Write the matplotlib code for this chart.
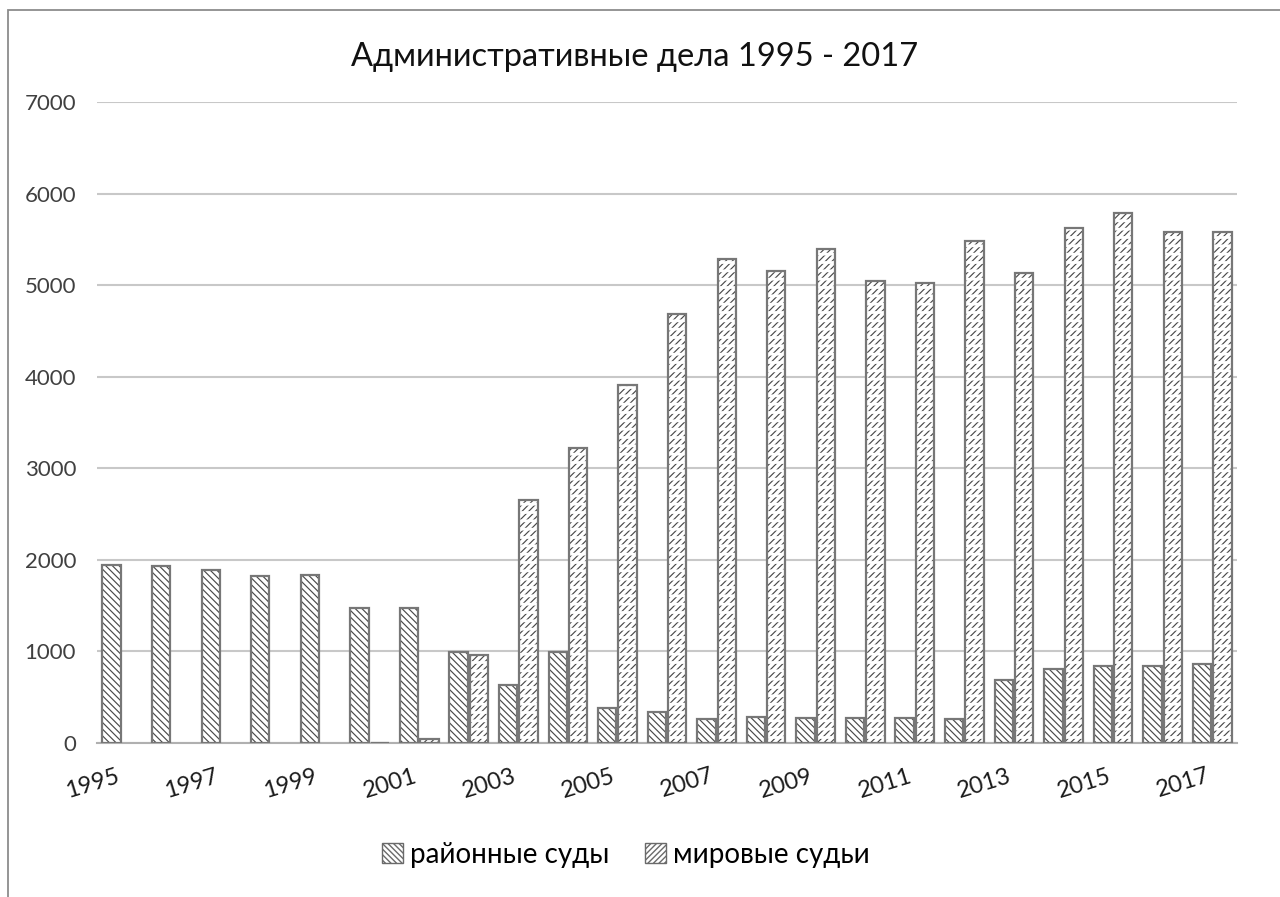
import matplotlib
matplotlib.use("Agg")
import matplotlib.pyplot as plt
import matplotlib.transforms as mtransforms
import numpy as np
from matplotlib.patches import Rectangle, Patch

years = list(range(1995, 2018))
district = [1945, 1930, 1890, 1820, 1830, 1470, 1470, 990, 630, 995, 385, 338,
            262, 287, 276, 276, 276, 262, 690, 804, 840, 840, 862]
magistrates = [0, 0, 0, 0, 0, 5, 45, 960, 2650, 3220, 3910, 4680,
               5290, 5150, 5390, 5050, 5025, 5480, 5135, 5625, 5790, 5580, 5580]
series_names = ["районные суды", "мировые судьи"]
title = "Административные дела 1995 - 2017"
yticks = [0, 1000, 2000, 3000, 4000, 5000, 6000, 7000]

plt.rcParams['font.family'] = ['Lato', 'DejaVu Sans']

W, H = 1280, 897
fig = plt.figure(figsize=(W / 100, H / 100), dpi=100)
ax = fig.add_axes([97 / W, 1 - 743 / H, (1237 - 97) / W, (743 - 102) / H])

x = np.arange(len(years))
mag = np.array(magistrates, dtype=float)
mag_plot = np.where(mag > 0, mag, np.nan)
bw = 0.37
off = 0.205
hatch_col = '#4a4a4a'
edge_col = '#777777'

with plt.rc_context({'hatch.linewidth': 0.85}):
    ax.bar(x - off, district, bw, color='white', edgecolor=hatch_col, hatch='\\\\\\\\\\',
           linewidth=0, zorder=3)
    ax.bar(x + off, mag_plot, bw, color='white', edgecolor=hatch_col, hatch='/////',
           linewidth=0, zorder=3)
with plt.rc_context({'hatch.linewidth': 2.0}):
    ax.bar(x + off, mag_plot, bw, fill=False, edgecolor='white', hatch='--',
           linewidth=0, zorder=4)
ax.bar(x - off, district, bw, fill=False, edgecolor=edge_col, linewidth=1.6, zorder=5)
ax.bar(x + off, mag_plot, bw, fill=False, edgecolor=edge_col, linewidth=1.6, zorder=5)

ax.set_xlim(-0.5, len(years) - 0.5)
ax.set_ylim(0, 7000)
ax.set_yticks(yticks)
ax.set_yticklabels([str(v) for v in yticks], fontsize=16, color='#404040')
ax.yaxis.grid(True, color='#c8c8c8', linewidth=1.5, zorder=0)
ax.set_axisbelow(True)
ax.set_xticks(x[::2])
ax.set_xticklabels([str(y) for y in years[::2]], rotation=17, fontsize=17,
                   color='#1a1a1a', ha='right', va='top')
shift = mtransforms.ScaledTranslation(5 / 100, 0, fig.dpi_scale_trans)
for lab in ax.get_xticklabels():
    lab.set_transform(lab.get_transform() + shift)
ax.tick_params(axis='both', length=0)
ax.tick_params(axis='y', pad=15)
ax.tick_params(axis='x', pad=16)
for s in ['top', 'right', 'left']:
    ax.spines[s].set_visible(False)
ax.spines['bottom'].set_color('#b0b0b0')
ax.spines['bottom'].set_linewidth(1.5)

fig.text(635 / W, 1 - 57 / H, title, ha='center', va='center', fontsize=23.5, color='#111111')

with plt.rc_context({'hatch.linewidth': 0.8}):
    h1 = Patch(facecolor='white', edgecolor='#6a6a6a', hatch='\\\\\\\\\\\\', linewidth=1)
    h2 = Patch(facecolor='white', edgecolor='#6a6a6a', hatch='//////', linewidth=1)
leg = fig.legend([h1, h2], series_names, loc='center', bbox_to_anchor=(626 / W, 1 - 855 / H),
                 ncol=2, frameon=False, fontsize=20, handlelength=0.75, handleheight=0.75,
                 handletextpad=0.25, columnspacing=1.3)

border = Rectangle((8 / W, -0.1), 1.2, 1 - 10 / H + 0.1, transform=fig.transFigure,
                   fill=False, edgecolor='#8c8c8c', linewidth=1.3)
fig.patches.append(border)

fig.savefig("out.png", dpi=100)
